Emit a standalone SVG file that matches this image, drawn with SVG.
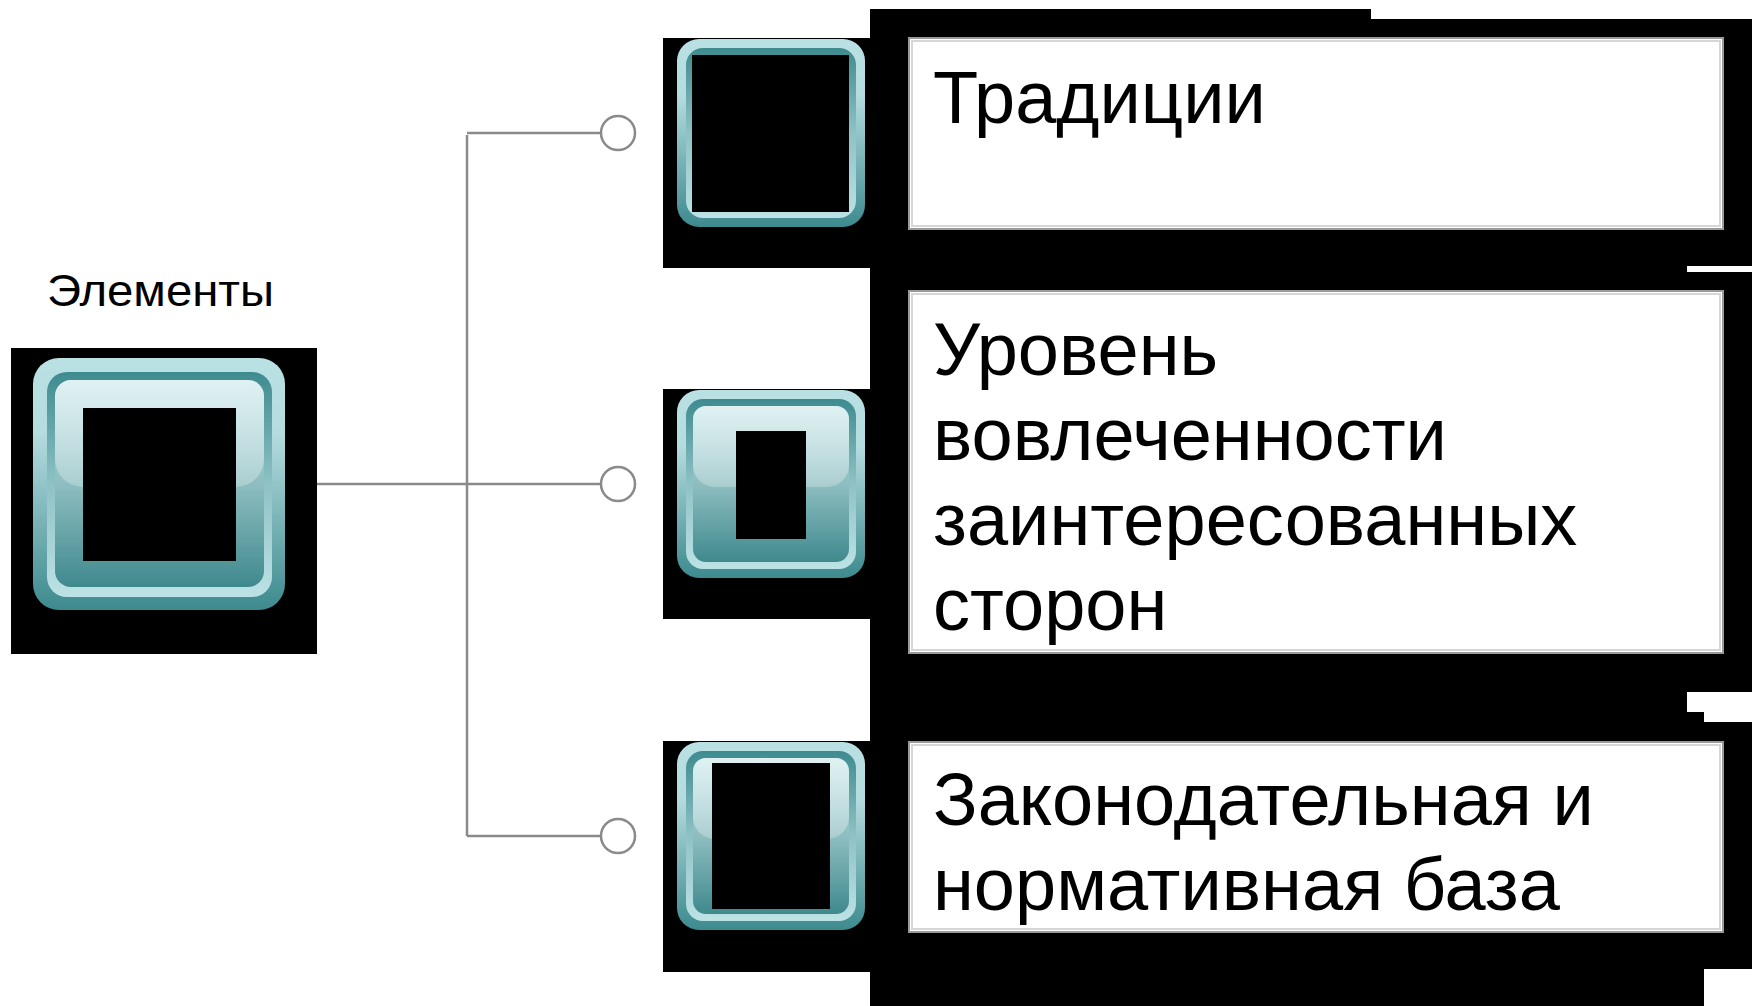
<svg xmlns="http://www.w3.org/2000/svg" width="1752" height="1006" viewBox="0 0 1752 1006">
<defs>
<linearGradient id="gOuter" x1="0" y1="0" x2="0" y2="1">
<stop offset="0" stop-color="#b9e0e3"/><stop offset="0.3" stop-color="#b5dcdf"/><stop offset="1" stop-color="#3d8a8e"/>
</linearGradient>
<linearGradient id="gRing" x1="0" y1="0" x2="0" y2="1">
<stop offset="0" stop-color="#3e8b8f"/><stop offset="0.5" stop-color="#8fc2c5"/><stop offset="1" stop-color="#bce2e5"/>
</linearGradient>
<linearGradient id="gInner" x1="0" y1="0" x2="0" y2="1">
<stop offset="0" stop-color="#b9e0e3"/><stop offset="0.5" stop-color="#8ebec1"/><stop offset="1" stop-color="#3f898d"/>
</linearGradient>
<linearGradient id="gHi" x1="0" y1="0" x2="0" y2="1">
<stop offset="0" stop-color="#ffffff" stop-opacity="0.55"/><stop offset="1" stop-color="#ffffff" stop-opacity="0.25"/>
</linearGradient>
</defs>
<style>
.bg{fill:#000}
.outer{fill:url(#gOuter)}
.ring{fill:url(#gRing)}
.inner{fill:url(#gInner)}
.hi{fill:url(#gHi)}
.icon{fill:#000}
.conn{stroke:#8a8a8a;stroke-width:2.5;fill:none}
.dot{stroke:#8a8a8a;stroke-width:2.5;fill:#fff}
.tbox{fill:#fff;stroke:#9a9a9a;stroke-width:2}
.tin{fill:none;stroke:#d6d6d6;stroke-width:2}
.big{font-family:"Liberation Sans",Arial,sans-serif;font-size:74px;fill:#000}
.lbl{font-family:"Liberation Sans",Arial,sans-serif;font-size:44px;fill:#000}
</style>
<rect width="1752" height="1006" fill="#fff"/>
<path id="backdrop" class="bg" d="M870,9 H1371 V19 H1752 V266 H1687 V272 H1752 V692 H1687 V712 H1704 V722 H1752 V969 H1704 V1006 H870 Z"/>
<g id="connectors">
<path class="conn" d="M285,484 H601"/>
<path class="conn" d="M467,135 V836"/>
<path class="conn" d="M467,133 H601"/>
<path class="conn" d="M467,836 H601"/>
<circle class="dot" cx="618" cy="133" r="17"/>
<circle class="dot" cx="618" cy="484" r="17"/>
<circle class="dot" cx="618" cy="836" r="17"/>
</g>
<g id="node-root">
<text class="lbl" x="47" y="306" textLength="227" lengthAdjust="spacingAndGlyphs">Элементы</text>
<rect class="bg" x="11" y="348" width="306" height="306"/>
<rect class="outer" x="33" y="358" width="252" height="252" rx="26"/>
<rect class="ring" x="47" y="372" width="225" height="225" rx="20"/>
<rect class="inner" x="55" y="380" width="209" height="207" rx="16"/>
<path class="hi" d="M71,380 H248 A16,16 0 0 1 264,396 V459 A28,28 0 0 1 236,487 H83 A28,28 0 0 1 55,459 V396 A16,16 0 0 1 71,380 Z"/>
<rect class="icon" x="83" y="408" width="153" height="153"/>
</g>
<g id="node-1">
<rect class="bg" x="663" y="38" width="207" height="230"/>
<rect class="outer" x="677" y="39" width="188" height="188" rx="22"/>
<rect class="ring" x="686" y="48" width="170" height="170" rx="17"/>
<rect class="inner" x="693" y="55" width="156" height="156" rx="13"/>
<rect class="icon" x="692" y="55" width="157" height="157"/>
<rect class="tbox" x="909" y="38" width="814" height="191"/>
<rect class="tin" x="912" y="41" width="808" height="185"/>
<text class="big" x="933" y="123">Традиции</text>
</g>
<g id="node-2">
<rect class="bg" x="663" y="389" width="207" height="230"/>
<rect class="outer" x="677" y="390" width="188" height="188" rx="22"/>
<rect class="ring" x="686" y="399" width="170" height="170" rx="17"/>
<rect class="inner" x="693" y="406" width="156" height="156" rx="13"/>
<path class="hi" d="M706,406 H836 A13,13 0 0 1 849,419 V465 A22,22 0 0 1 827,487 H715 A22,22 0 0 1 693,465 V419 A13,13 0 0 1 706,406 Z"/>
<rect class="icon" x="736" y="431" width="70" height="108"/>
<rect class="tbox" x="909" y="291" width="814" height="362"/>
<rect class="tin" x="912" y="294" width="808" height="356"/>
<text class="big" x="933" y="375">Уровень</text>
<text class="big" x="933" y="460">вовлеченности</text>
<text class="big" x="933" y="545">заинтересованных</text>
<text class="big" x="933" y="630">сторон</text>
</g>
<g id="node-3">
<rect class="bg" x="663" y="741" width="207" height="231"/>
<rect class="outer" x="677" y="742" width="188" height="188" rx="22"/>
<rect class="ring" x="686" y="751" width="170" height="170" rx="17"/>
<rect class="inner" x="693" y="758" width="156" height="156" rx="13"/>
<path class="hi" d="M706,758 H836 A13,13 0 0 1 849,771 V817 A22,22 0 0 1 827,839 H715 A22,22 0 0 1 693,817 V771 A13,13 0 0 1 706,758 Z"/>
<rect class="icon" x="712" y="763" width="118" height="146"/>
<rect class="tbox" x="909" y="742" width="814" height="190"/>
<rect class="tin" x="912" y="745" width="808" height="184"/>
<text class="big" x="933" y="825">Законодательная и</text>
<text class="big" x="933" y="910">нормативная база</text>
</g>
</svg>
